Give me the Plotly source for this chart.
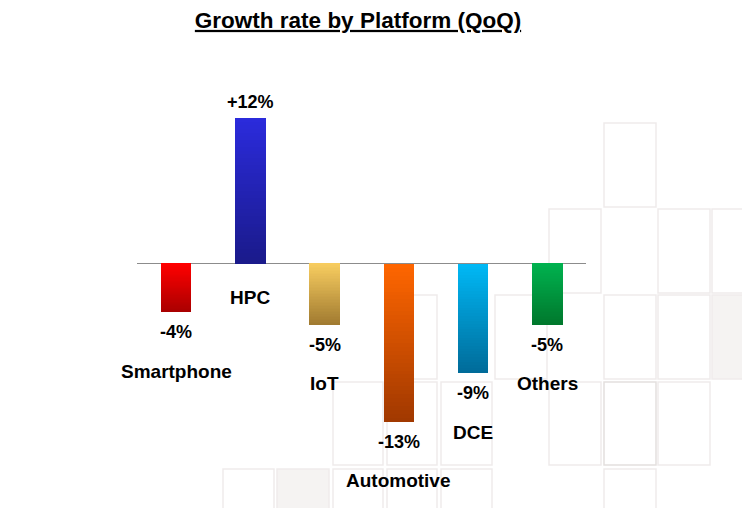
import plotly.graph_objects as go

# ---- data ----
categories = ["Smartphone", "HPC", "IoT", "Automotive", "DCE", "Others"]
growth_pct = [-4, 12, -5, -13, -9, -5]
value_labels = ["-4%", "+12%", "-5%", "-13%", "-9%", "-5%"]

# vertical gradient per bar: (colour at top of bar, colour at bottom of bar)
grad_top = ["#ff0000", "#2b2bdc", "#f8cd60", "#ff6600", "#00b9f6", "#00b24f"]
grad_bottom = ["#a80000", "#1a1a8a", "#a07a30", "#a03800", "#006a98", "#00772c"]

# ---- layout geometry (page has an 8px body margin) ----
OFF = 8
W, H = 750 - OFF, 508 - OFF
ML, MR, MT, MB = 137 - OFF, 164, 45 - OFF, 1
PLOT_W = W - ML - MR
PLOT_H = H - MT - MB


def hex2rgb(h):
    h = h.lstrip("#")
    return tuple(int(h[i:i + 2], 16) for i in (0, 2, 4))


def mix(c1, c2, t):
    a, b = hex2rgb(c1), hex2rgb(c2)
    return "rgb({},{},{})".format(*[round(a[i] + (b[i] - a[i]) * t) for i in range(3)])


fig = go.Figure()

# Gradient bars: overlaid bars from zero, each shorter one drawn on top
N = 40
for k in range(N):
    frac = (N - k) / N
    t = (N - k - 0.5) / N  # fraction of distance from zero line
    colors = []
    for v, top, bot in zip(growth_pct, grad_top, grad_bottom):
        if v < 0:
            colors.append(mix(top, bot, t))
        else:
            colors.append(mix(bot, top, t))
    fig.add_trace(go.Bar(
        x=categories,
        y=[v * frac for v in growth_pct],
        marker=dict(color=colors, line=dict(width=0)),
        width=0.41,
        hoverinfo="skip",
        showlegend=False,
    ))

font_family = "Liberation Sans, Arial, sans-serif"
annotations = []
for cat, v, lab in zip(categories, growth_pct, value_labels):
    annotations.append(dict(
        x=cat, y=v, xref="x", yref="y", text="<b>%s</b>" % lab, showarrow=False,
        yanchor="middle", yshift=16 if v > 0 else -20,
        font=dict(family=font_family, size=18, color="#000000"),
    ))
    annotations.append(dict(
        x=cat, y=min(v, 0), xref="x", yref="y", text="<b>%s</b>" % cat, showarrow=False,
        yanchor="middle", yshift=-34 if v > 0 else -59,
        font=dict(family=font_family, size=19, color="#000000"),
    ))

# ---- decorative background tiles (pixel coords in the screenshot) ----
cols = [(223, 274), (277, 329), (333, 383), (387, 437), (441, 492),
        (495, 547), (549, 601), (604, 656), (658, 710), (712, 764)]
rows = [(123, 207), (209, 293), (295, 379), (382, 465), (469, 552)]
tiles = [(0, 7),
         (1, 6), (1, 8), (1, 9),
         (2, 3), (2, 5), (2, 7), (2, 8), (2, 9),
         (3, 2), (3, 3), (3, 4), (3, 6), (3, 7), (3, 8),
         (4, 0), (4, 1), (4, 2), (4, 3), (4, 4), (4, 7)]
filled = {(2, 9), (4, 1)}
darker = {(3, 7)}


def px2x(px):
    return (px - OFF - ML) / PLOT_W


def py2y(py):
    return (H - MB - (py - OFF)) / PLOT_H


shapes = []
for r, c in tiles:
    x0, x1 = cols[c]
    y0, y1 = rows[r]
    shapes.append(dict(
        type="rect", xref="paper", yref="paper", layer="below",
        x0=px2x(x0), x1=px2x(x1), y0=py2y(y1), y1=py2y(y0),
        line=dict(color="#e4e0de" if (r, c) in darker else "#efebeb", width=1.5),
        fillcolor="#f5f3f2" if (r, c) in filled else "rgba(0,0,0,0)",
    ))

fig.update_layout(
    width=W, height=H,
    margin=dict(l=ML, r=MR, t=MT, b=MB, pad=0),
    paper_bgcolor="white", plot_bgcolor="rgba(0,0,0,0)",
    barmode="overlay", bargap=0,
    title=dict(text="<b><u>Growth rate by Platform (QoQ)</u></b>",
               x=(358 - OFF) / W, xanchor="center", xref="container",
               y=1 - (20 - OFF) / H, yanchor="middle", yref="container",
               font=dict(family=font_family, size=22.5, color="#000000")),
    xaxis=dict(range=[-0.525, 5.52], showticklabels=False, showgrid=False,
               zeroline=False, showline=False, fixedrange=True),
    yaxis=dict(range=[-20, 18], showticklabels=False, showgrid=False,
               zeroline=True, zerolinecolor="#8c8c8c", zerolinewidth=1,
               showline=False, fixedrange=True),
    annotations=annotations,
    shapes=shapes,
    showlegend=False,
)

fig.write_html("out.html")
